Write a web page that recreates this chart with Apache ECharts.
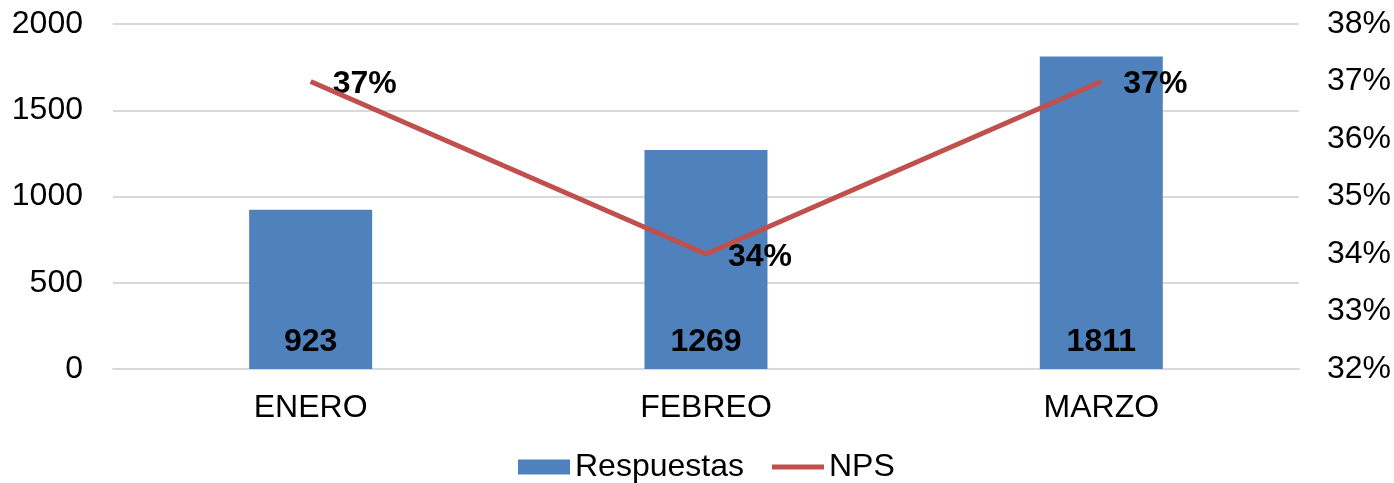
<!DOCTYPE html>
<html>
<head>
<meta charset="utf-8">
<script src="https://cdn.jsdelivr.net/npm/echarts@6/dist/echarts.min.js"></script>
<style>
  html, body { margin: 0; padding: 0; background: #fff; }
  #chart { width: 1394px; height: 483px; }
</style>
</head>
<body>
<div id="chart"></div>
<script>
  var months = ['ENERO', 'FEBREO', 'MARZO'];
  var respuestas = [923, 1269, 1811];
  var nps = [37, 34, 37];

  var font = '"Liberation Sans", Arial, sans-serif';
  var myChart = echarts.init(document.getElementById('chart'));
  myChart.setOption({
    animation: false,
    textStyle: { fontFamily: font },
    grid: { left: 113, right: 94, top: 24, bottom: 114 },
    legend: {
      bottom: -5,
      left: 513,
      itemWidth: 52,
      itemHeight: 15,
      itemGap: 28,
      textStyle: { fontSize: 32, color: '#000', fontFamily: font },
      data: [
        { name: 'Respuestas', icon: 'rect' },
        // solo la linea, sin el circulo
        { name: 'NPS', icon: 'path://M0,0 L0.01,0 Z M0,5 L52,5 L52,10 L0,10 Z M0,15 L0.01,15 Z' }
      ]
    },
    xAxis: {
      type: 'category',
      data: months,
      axisLine: { lineStyle: { color: '#d9d9d9', width: 2 } },
      axisTick: { show: false },
      axisLabel: { fontSize: 32, color: '#000', margin: 23 }
    },
    yAxis: [
      {
        type: 'value',
        min: 0,
        max: 2000,
        interval: 500,
        axisLine: { show: false },
        axisTick: { show: false },
        axisLabel: {
          fontSize: 32, color: '#000', margin: 30,
          formatter: function (val) { return val + ''; }
        },
        splitLine: { lineStyle: { color: '#d9d9d9', width: 2 } }
      },
      {
        type: 'value',
        min: 32,
        max: 38,
        interval: 1,
        axisLine: { show: false },
        axisTick: { show: false },
        splitLine: { show: false },
        axisLabel: { fontSize: 32, color: '#000', margin: 28, formatter: '{value}%' }
      }
    ],
    series: [
      {
        name: 'Respuestas',
        type: 'bar',
        data: respuestas,
        barWidth: 123,
        itemStyle: { color: '#4f81bd' },
        label: {
          show: true,
          position: 'insideBottom',
          distance: 11,
          fontSize: 32,
          fontWeight: 'bold',
          color: '#000'
        }
      },
      {
        name: 'NPS',
        type: 'line',
        yAxisIndex: 1,
        data: nps,
        symbol: 'none',
        lineStyle: { color: '#c0504d', width: 5 },
        itemStyle: { color: '#c0504d' }
      },
      {
        // etiquetas del NPS (la linea no muestra label sin simbolo)
        name: 'NPS etiquetas',
        type: 'scatter',
        yAxisIndex: 1,
        data: nps,
        symbolSize: 0,
        silent: true,
        itemStyle: { opacity: 1, color: '#c0504d' },
        label: {
          show: true,
          position: 'right',
          distance: 22,
          offset: [0, 3],
          fontSize: 32,
          fontWeight: 'bold',
          color: '#000',
          opacity: 1,
          formatter: '{c}%'
        }
      }
    ]
  });
  window.addEventListener('resize', function () {
    myChart.resize();
  });
</script>
</body>
</html>
